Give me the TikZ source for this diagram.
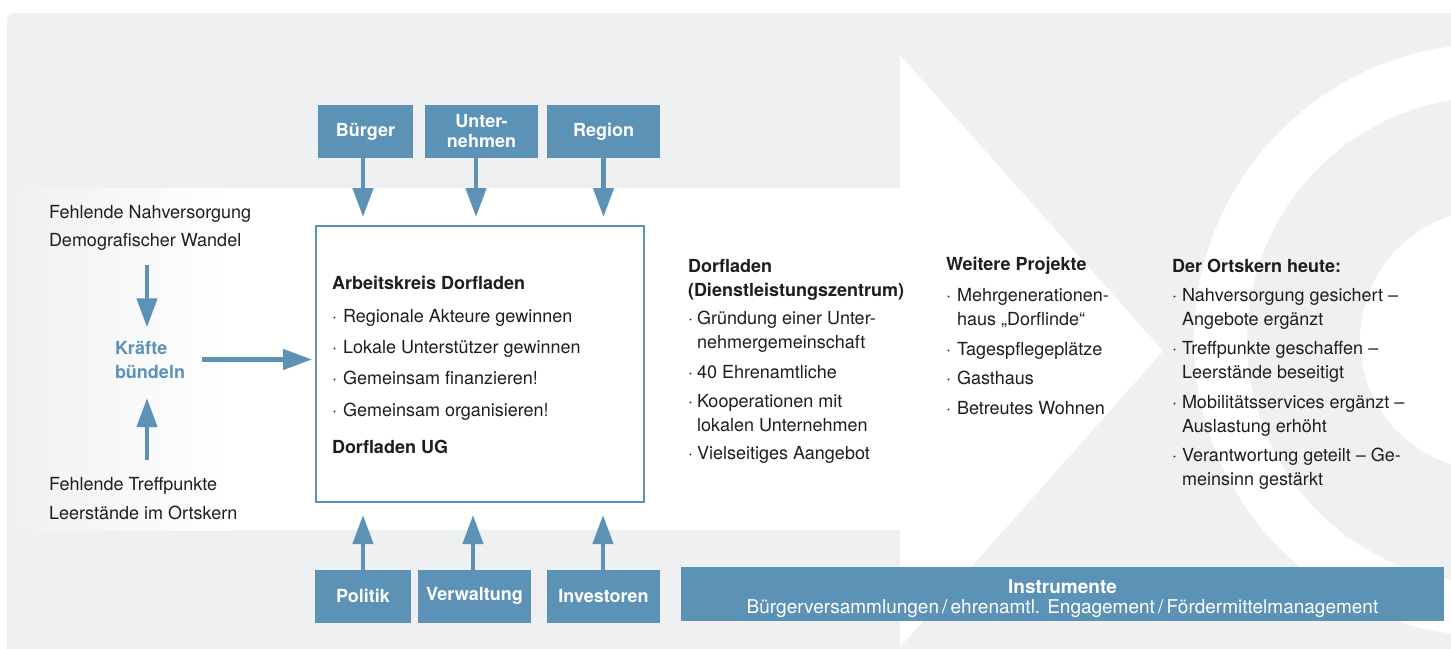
\documentclass[tikz,border=0pt]{standalone}
\usepackage{fontspec}
\setmainfont{TeX Gyre Heros}
\usetikzlibrary{arrows.meta}
\definecolor{bl}{RGB}{92,146,182}
\definecolor{bgg}{RGB}{239,240,242}
\definecolor{txt}{RGB}{30,30,30}
\newcommand\bitm[1]{\makebox[#1][l]{·}}
\newcommand\bcnt[1]{\hspace*{#1}}
\begin{document}
\begin{tikzpicture}[x=1pt,y=-1pt,
  every node/.style={inner sep=0pt, outer sep=0pt},
  txtn/.style={text=txt, align=left, font=\fontsize{18}{24}\selectfont},
  actor/.style={fill=bl, text=white, align=center, minimum height=53pt,
    font=\fontsize{18}{20}\selectfont\bfseries},
  arr/.style={draw=bl, line width=4.5pt, -{Triangle[width=20pt,length=29pt]}},
  mainbox/.style={draw=bl, line width=2pt, minimum width=328pt, minimum height=276pt}]
\useasboundingbox (0,0) rectangle (1451,648);
% background
\fill[white] (0,0) rectangle (1451,648);
\begin{scope}
\clip (0,0) rectangle (1451,648);
\fill[bgg, rounded corners=7pt] (7,13) rectangle (1480,680);
\fill[white] (229,188) rectangle (900,530);
\shade[left color=bgg, right color=white] (7,188) rectangle (230,530);
\fill[white] (900,55) -- (1163,351) -- (900,647) -- cycle;
\fill[white, even odd rule] (1490,340) circle[radius=296pt] (1490,340) circle[radius=243pt];
\fill[white] (1490,340) circle[radius=130pt];
\end{scope}

% actor boxes
\node[actor, minimum width=95pt]  (buerger) at (365.5,131.5) {Bürger};
\node[actor, minimum width=113pt] (untern)  at (481.5,131.5) {Unter-\\nehmen};
\node[actor, minimum width=113pt] (region)  at (603.5,131.5) {Region};
\node[actor, minimum width=96pt]  (politik) at (363,596) {Politik};
\node[actor, minimum width=113pt] (verw)    at (474.5,596) {Verwaltung};
\node[actor, minimum width=113pt] (invest)  at (603.5,596) {Investoren};

% main box
\node[mainbox] (main) at (480,364) {};
\node[txtn, anchor=base west] (maintext) at (332,453)
  {{\bfseries Arbeitskreis Dorfladen}\\[9pt]
   \bitm{11pt}Regionale Akteure gewinnen\\[7pt]
   \bitm{11pt}Lokale Unterstützer gewinnen\\[7pt]
   \bitm{11pt}Gemeinsam finanzieren!\\[8pt]
   \bitm{11pt}Gemeinsam organisieren!\\[13pt]
   {\bfseries Dorfladen UG}};

% left side
\node[txtn, anchor=base west] (prob1) at (49,246)
  {Fehlende Nahversorgung\\[4pt]Demografischer Wandel};
\node[txtn, anchor=base west] (prob2) at (49,519)
  {Fehlende Treffpunkte\\[5pt]Leerstände im Ortskern};
\node[txtn, text=bl, anchor=base west, font=\fontsize{18}{24}\selectfont\bfseries]
  (kraefte) at (115,378) {Kräfte\\bündeln};

% columns
\node[txtn, anchor=base west] (col1) at (688,459)
  {{\bfseries Dorfladen}\\
   {\bfseries (Dienstleistungszentrum)}\\[4pt]
   \bitm{9pt}Gründung einer Unter-\\
   \bcnt{9pt}nehmergemeinschaft\\[6pt]
   \bitm{9pt}40 Ehrenamtliche\\[5pt]
   \bitm{9pt}Kooperationen mit\\
   \bcnt{9pt}lokalen Unternehmen\\[4pt]
   \bitm{9pt}Vielseitiges Aangebot};
\node[txtn, anchor=base west] (col2) at (946,414)
  {{\bfseries Weitere Projekte}\\[7pt]
   \bitm{11pt}Mehrgenerationen-\\
   \bcnt{11pt}haus „Dorflinde“\\[6pt]
   \bitm{11pt}Tagespflegeplätze\\[5pt]
   \bitm{11pt}Gasthaus\\[6pt]
   \bitm{11pt}Betreutes Wohnen};
\node[txtn, anchor=base west] (col3) at (1172,485)
  {{\bfseries Der Ortskern heute:}\\[5pt]
   \bitm{10pt}Nahversorgung gesichert –\\
   \bcnt{10pt}Angebote ergänzt\\[5pt]
   \bitm{10pt}Treffpunkte geschaffen –\\
   \bcnt{10pt}Leerstände beseitigt\\[6pt]
   \bitm{10pt}Mobilitätsservices ergänzt –\\
   \bcnt{10pt}Auslastung erhöht\\[5pt]
   \bitm{10pt}Verantwortung geteilt – Ge-\\
   \bcnt{10pt}meinsinn gestärkt};

% instrumente bar
\node[fill=bl, minimum width=763pt, minimum height=54pt] (instr) at (1062.5,594) {};
\node[text=white, align=center, anchor=base, font=\fontsize{19}{20}\selectfont]
  (instrtext) at (instr.center |- 0,613)
  {{\bfseries Instrumente}\\Bürgerversammlungen\,/\,ehrenamtl. Engagement\,/\,Fördermittelmanagement};

% arrows
\draw[arr, shorten >=9pt] ([xshift=-2.5pt]buerger.south) -- ([xshift=-2.5pt]buerger.south |- main.north);
\draw[arr, shorten >=9pt] ([xshift=-5.5pt]untern.south) -- ([xshift=-5.5pt]untern.south |- main.north);
\draw[arr, shorten >=9pt] (region.south) -- (region.south |- main.north);
\draw[arr, shorten >=13pt] (politik.north) -- (politik.north |- main.south);
\draw[arr, shorten >=13pt] ([xshift=-1.5pt]verw.north) -- ([xshift=-1.5pt]verw.north |- main.south);
\draw[arr, shorten >=13pt] ([xshift=-0.5pt]invest.north) -- ([xshift=-0.5pt]invest.north |- main.south);
\draw[arr, shorten <=15pt, shorten >=13.5pt] ([xshift=-3pt]kraefte.north |- prob1.south) -- ([xshift=-3pt]kraefte.north);
\draw[arr, shorten <=17pt, shorten >=20pt] ([xshift=-3pt]kraefte.south |- prob2.north) -- ([xshift=-3pt]kraefte.south);
\draw[arr, shorten <=17pt, shorten >=4pt] (kraefte.east) -- (kraefte.east -| main.west);
\end{tikzpicture}
\end{document}
